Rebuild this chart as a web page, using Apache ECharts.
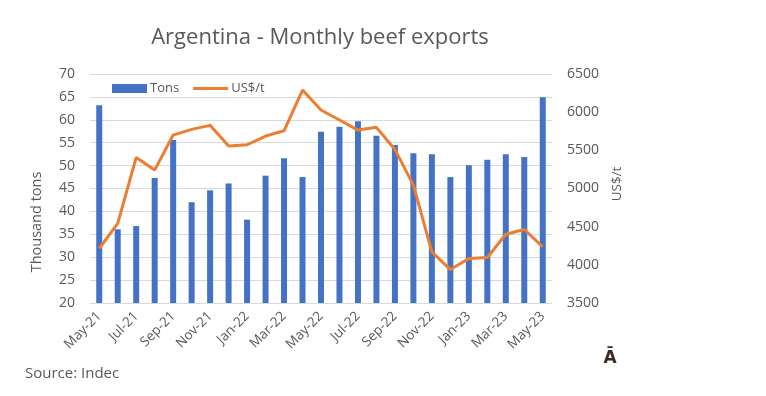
<!DOCTYPE html>
<html><head><meta charset="utf-8">
<script src="https://cdn.jsdelivr.net/npm/echarts@6/dist/echarts.min.js"></script>
<style>html,body{margin:0;padding:0;background:#fff}#c{width:766px;height:396px}</style>
</head><body><div id="c"></div>
<script>
const months = ['May-21','Jun-21','Jul-21','Aug-21','Sep-21','Oct-21','Nov-21','Dec-21','Jan-22','Feb-22','Mar-22','Apr-22','May-22','Jun-22','Jul-22','Aug-22','Sep-22','Oct-22','Nov-22','Dec-22','Jan-23','Feb-23','Mar-23','Apr-23','May-23'];
const tons = [63.2,36.1,36.8,47.3,55.6,42.0,44.6,46.1,38.2,47.8,51.6,47.5,57.4,58.5,59.7,56.5,54.5,52.7,52.5,47.5,50.1,51.3,52.5,51.9,64.9];
const usdPerTon = [4214,4542,5407,5241,5700,5775,5827,5556,5573,5687,5756,6290,6028,5897,5765,5801,5512,5044,4169,3938,4082,4096,4401,4463,4235];
const leftTicks = {min:20,max:70,interval:5};
const rightTicks = {min:3500,max:6500,interval:500};

const font = '"Open Sans", sans-serif';
const grey = '#595959';
const chart = echarts.init(document.getElementById('c'), null, {renderer:'canvas'});
chart.setOption({
  animation:false,
  backgroundColor:'#fff',
  textStyle:{fontFamily:font},
  title:{text:'Argentina - Monthly beef exports',left:315,textAlign:'center',top:22,
    textStyle:{fontFamily:font,fontSize:22,fontWeight:'normal',color:grey}},
  legend:{left:112,top:82,padding:0,itemGap:14,itemWidth:35,itemHeight:9,
    textStyle:{fontFamily:font,fontSize:13,color:grey,padding:[0,0,0,-2]},
    data:[{name:'Tons',icon:'rect'},{name:'US$/t',icon:'path://M0,4 L35,4 L35,7 L0,7 Z'}]},
  grid:{left:90,right:214,top:74,bottom:93},
  xAxis:{type:'category',data:months,
    axisLine:{lineStyle:{color:'#d9d9d9'}},axisTick:{show:false},
    axisLabel:{interval:1,rotate:45,fontSize:13.5,color:grey,fontFamily:font,margin:11}},
  yAxis:[
    {type:'value',min:leftTicks.min,max:leftTicks.max,interval:leftTicks.interval,
     axisLine:{show:false},axisTick:{show:false},
     splitLine:{lineStyle:{color:'#d9d9d9'}},
     axisLabel:{fontSize:14,color:grey,fontFamily:font,margin:15}},
    {type:'value',min:rightTicks.min,max:rightTicks.max,interval:rightTicks.interval,
     axisLine:{show:false},axisTick:{show:false},splitLine:{show:false},
     axisLabel:{fontSize:14,color:grey,fontFamily:font,margin:15,formatter:v=>String(v)}}
  ],
  series:[
    {name:'Tons',type:'bar',data:tons,barWidth:6,itemStyle:{color:'#4472C4'},yAxisIndex:0},
    {name:'US$/t',type:'line',data:usdPerTon,yAxisIndex:1,symbol:'none',
     lineStyle:{color:'#ED7D31',width:3},itemStyle:{color:'#ED7D31'}}
  ],
  graphic:[
    {type:'text',x:37,y:222,rotation:Math.PI/2,
     style:{text:'Thousand tons',font:'14.5px '+font,fill:grey,align:'center',verticalAlign:'middle'}},
    {type:'text',x:617,y:184,rotation:Math.PI/2,
     style:{text:'US$/t',font:'13.5px '+font,fill:grey,align:'center',verticalAlign:'middle'}},
    {type:'text',x:25,y:374,style:{text:'Source: Indec',font:'15px '+font,fill:grey,verticalAlign:'middle'}},
    {type:'text',x:610,y:359,style:{text:'Ā',font:'bold 17px "DejaVu Sans", sans-serif',fill:'#3b2a20',align:'center',verticalAlign:'middle'}}
  ]
});
</script>
</body></html>
